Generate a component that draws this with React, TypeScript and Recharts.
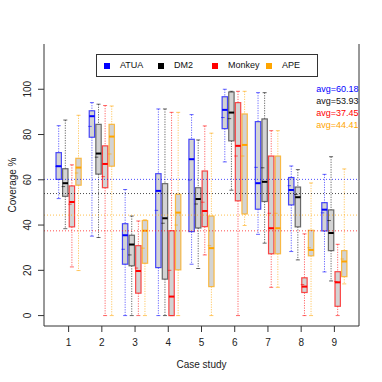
import React from "react";
import { ComposedChart, Bar, XAxis, YAxis, ReferenceLine } from "recharts";

const cases = ["1", "2", "3", "4", "5", "6", "7", "8", "9"];
const seriesNames = ["ATUA", "DM2", "Monkey", "APE"];
const seriesColors = ["#0000ff", "#000000", "#ff0000", "#ffa500"];
const averages = [60.18, 53.93, 37.45, 44.41];
const yTicks = [0, 20, 40, 60, 80, 100];

// [min, q1, median, q3, max] for each case study
const atuaStats = [
  [51.7, 60.2, 66.0, 72.0, 83.9],
  [35.1, 78.8, 88.1, 90.5, 94.1],
  [0, 22.7, 35.5, 40.6, 55.7],
  [0, 21.2, 55.1, 62.7, 91.3],
  [22.7, 37.1, 69.1, 77.9, 88.8],
  [67.9, 82.6, 90.9, 96.7, 100],
  [35.9, 47.0, 58.5, 85.7, 98.5],
  [28.3, 48.9, 55.5, 61.0, 66.1],
  [19.3, 37.4, 46.8, 49.9, 62.4],
];
const dm2Stats = [
  [38.4, 52.7, 58.5, 64.9, 86.4],
  [34.5, 62.5, 71.6, 84.5, 93.4],
  [0, 22.0, 31.4, 35.5, 44.0],
  [0, 16.1, 43.0, 58.3, 91.3],
  [20.8, 38.7, 51.5, 56.5, 77.6],
  [55.4, 77.2, 89.7, 98.8, 99.1],
  [32.0, 50.4, 59.1, 86.9, 98.5],
  [24.6, 39.2, 52.3, 56.8, 64.5],
  [15.3, 28.7, 36.5, 46.7, 70.2],
];
const monkeyStats = [
  [21.5, 39.2, 50.2, 57.3, 66.6],
  [0, 56.5, 67.0, 75.0, 92.8],
  [0, 9.9, 19.7, 30.9, 41.8],
  [0, 0, 8.4, 37.5, 89.8],
  [26.8, 39.3, 46.2, 63.9, 83.8],
  [0, 50.7, 75.0, 94.1, 99.1],
  [12.5, 27.3, 38.6, 70.5, 81.7],
  [0, 10.2, 12.8, 16.7, 36.1],
  [0, 4.1, 14.7, 19.4, 31.5],
];
const apeStats = [
  [19.9, 57.6, 65.4, 69.5, 88.5],
  [0, 66.0, 79.1, 84.5, 92.6],
  [0, 23.1, 37.5, 42.0, 42.3],
  [0, 20.2, 45.5, 53.6, 89.8],
  [0, 12.8, 29.8, 44.0, 80.6],
  [39.8, 44.9, 75.4, 89.1, 99.1],
  [12.5, 27.3, 38.6, 70.5, 81.7],
  [0, 26.4, 29.0, 37.7, 58.6],
  [14.0, 17.2, 23.9, 28.7, 64.8],
];

// means (small dashes)
const atuaMeans = [66.0, 83.6, 29.3, 46.5, 59.9, 87.5, 65.5, 57.4, 45.4];
const dm2Means = [57.0, 70.0, 26.8, 40.8, 49.3, 87.0, 65.3, 53.5, 42.0];
const monkeyMeans = [49.2, 61.4, 21.0, 20.0, 50.1, 70.5, 45.2, 13.7, 15.0];
const apeMeans = [63.0, 71.4, 29.8, 40.0, 30.9, 70.5, 45.2, 30.0, 25.0];

const allStats = [atuaStats, dm2Stats, monkeyStats, apeStats];
const allMeans = [atuaMeans, dm2Means, monkeyMeans, apeMeans];

const data = cases.map((c, i) => {
  const row: any = { case: c };
  seriesNames.forEach((name, s) => {
    const st = allStats[s][i];
    row[name] = [st[1], st[3]];
    row[name + "_stats"] = st;
    row[name + "_mean"] = allMeans[s][i];
  });
  return row;
});

const makeBoxShape = (name: string, color: string) => (props: any) => {
  const { x, y, width, height, payload } = props;
  const [lo, q1, med, q3, hi] = payload[name + "_stats"];
  const mean = payload[name + "_mean"];
  const k = height / (q3 - q1);
  const py = (v: number) => y + (q3 - v) * k;
  const cx = x + width / 2;
  const boxStroke = name === "DM2" ? "#333" : color;
  return (
    <g>
      <line x1={cx} x2={cx} y1={py(hi)} y2={y} stroke={color} strokeOpacity={0.6} strokeDasharray="1.2 1.3" />
      <line x1={cx} x2={cx} y1={y + height} y2={py(lo)} stroke={color} strokeOpacity={0.6} strokeDasharray="1.2 1.3" />
      <line x1={cx - 2} x2={cx + 2} y1={py(hi)} y2={py(hi)} stroke={color} strokeOpacity={0.6} />
      <line x1={cx - 2} x2={cx + 2} y1={py(lo)} y2={py(lo)} stroke={color} strokeOpacity={0.6} />
      <rect x={x} y={y} width={width} height={height} fill="#d3d3d3" stroke={boxStroke} strokeOpacity={0.7} strokeWidth={1.2} />
      <line x1={x} x2={x + width} y1={py(med)} y2={py(med)} stroke={color} strokeWidth={2} />
      <line x1={x - 1} x2={x + 2.5} y1={py(mean)} y2={py(mean)} stroke={color} strokeOpacity={0.6} />
    </g>
  );
};

const XTick = (props: any) => {
  const { x, y, payload } = props;
  return (
    <text x={x} y={y + 12} textAnchor="middle" fontSize={10} fill="#222">
      {payload.value}
    </text>
  );
};

const YTick = (props: any) => {
  const { x, y, payload } = props;
  const bx = x - 4.5;
  return (
    <text x={bx} y={y} textAnchor="middle" fontSize={10} fill="#222" transform={`rotate(-90, ${bx}, ${y})`}>
      {payload.value}
    </text>
  );
};

export default function App() {
  return (
    <div style={{ position: "absolute", left: 0, top: 0, width: 382, height: 382, background: "#fff", fontFamily: "'Liberation Sans', Arial, sans-serif" }}>
      <ComposedChart
        width={382}
        height={382}
        data={data}
        margin={{ top: 44, right: 22, bottom: 0, left: 0 }}
        barSize={5.4}
        barGap={1.2}
      >
        <XAxis
          dataKey="case"
          height={56}
          padding={{ left: 8, right: 8 }}
          tickSize={6}
          tick={<XTick />}
          stroke="#333"
          label={{
            content: (p: any) => (
              <text x={p.viewBox.x + p.viewBox.width / 2} y={p.viewBox.y + 42} textAnchor="middle" fontSize={10} fill="#222">
                Case study
              </text>
            ),
          }}
        />
        <XAxis xAxisId="top" dataKey="case" orientation="top" height={0} tick={false} tickLine={false} stroke="#333" />
        <YAxis
          type="number"
          domain={[-4.6, 120]}
          ticks={yTicks}
          width={44}
          tickSize={6}
          tick={<YTick />}
          stroke="#333"
          label={{
            content: (p: any) => {
              const lx = p.viewBox.x + 16;
              const ly = p.viewBox.y + p.viewBox.height / 2;
              return (
                <text x={lx} y={ly} textAnchor="middle" fontSize={10} fill="#222" transform={`rotate(-90, ${lx}, ${ly})`}>
                  Coverage %
                </text>
              );
            },
          }}
        />
        <YAxis yAxisId="right" type="number" orientation="right" domain={[-4.6, 120]} ticks={yTicks} width={1} tick={false} tickLine={false} stroke="#333" />
        {averages.map((a, i) => (
          <ReferenceLine key={i} y={a} stroke={seriesColors[i]} strokeOpacity={0.7} strokeDasharray="1 2" />
        ))}
        {seriesNames.map((name, i) => (
          <Bar key={name} dataKey={name} isAnimationActive={false} shape={makeBoxShape(name, seriesColors[i])} />
        ))}
      </ComposedChart>
      <div style={{ position: "absolute", left: 96, top: 54, width: 220, height: 21, border: "1.3px solid #333", background: "#fff", fontSize: 9, color: "#111" }}>
        {seriesNames.map((name, i) => (
          <React.Fragment key={name}>
            <div style={{ position: "absolute", left: 7 + i * 54, top: 8, width: 6, height: 6, background: seriesColors[i] }} />
            <div style={{ position: "absolute", left: 23 + i * 54, top: 5, lineHeight: "11px" }}>{name}</div>
          </React.Fragment>
        ))}
      </div>
      <div style={{ position: "absolute", right: 23.5, top: 83, textAlign: "right", fontSize: 9, lineHeight: "12px" }}>
        {averages.map((a, i) => (
          <div key={i} style={{ color: i === 1 ? "#111" : seriesColors[i] }}>avg={a.toFixed(2)}</div>
        ))}
      </div>
    </div>
  );
}
